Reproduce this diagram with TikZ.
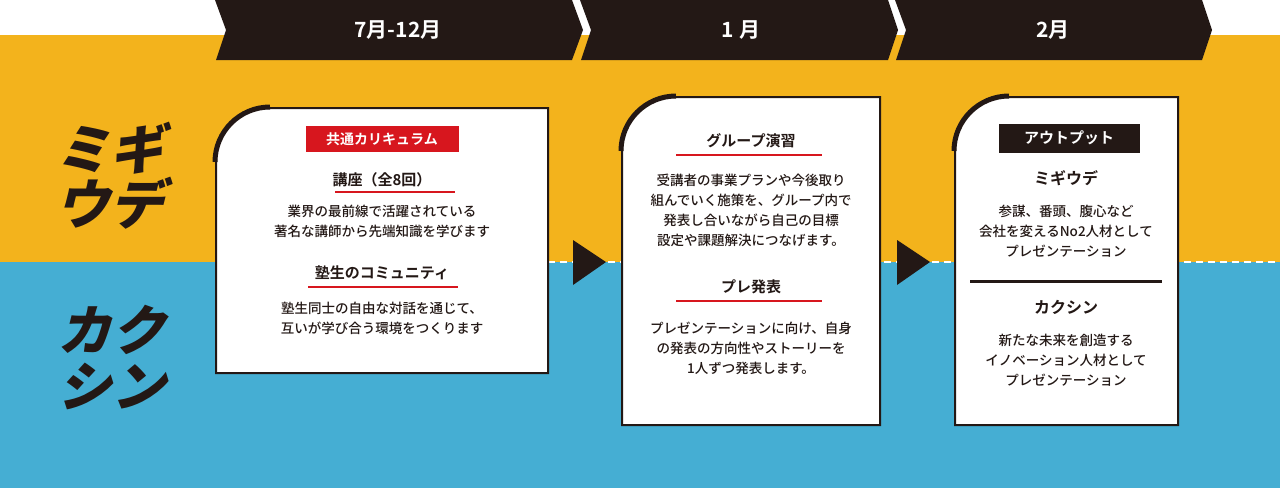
\documentclass[tikz,border=0pt]{standalone}
\usepackage{fontspec}
\setmainfont{Noto Sans CJK JP Medium}[BoldFont={Noto Sans CJK JP Bold}]
\newfontfamily\logofont{Noto Sans CJK JP Black}[FakeSlant=0.25]
\definecolor{ink}{HTML}{231815}
\definecolor{yel}{HTML}{F3B31C}
\definecolor{blu}{HTML}{45AED3}
\definecolor{redl}{HTML}{D7161E}
\tikzset{
  body/.style={align=center,font=\fontsize{13.5}{20}\selectfont,text=ink,inner sep=0},
  head/.style={font=\bfseries\fontsize{15}{16}\selectfont,text=ink,inner sep=0},
  month/.style={font=\bfseries\fontsize{21}{22}\selectfont,text=white,inner sep=0},
  logo/.style={font=\logofont\fontsize{54}{54}\selectfont,text=ink,inner sep=0},
  banner/.style={fill=ink},
  cardline/.style={draw=ink,line width=2pt,fill=white},
  cornerarc/.style={draw=ink,line width=5pt},
  uline/.style={draw=redl,line width=1.5pt},
  tri/.style={fill=ink}
}
\begin{document}
\begin{tikzpicture}[x=1pt,y=-1pt]
\useasboundingbox (0,0) rectangle (1280,491);
\fill[white] (0,0) rectangle (1280,491);
\fill[yel] (0,35) rectangle (1280,262);
\fill[blu] (0,262) rectangle (1280,488);
\draw[white,line width=2pt,dash pattern=on 7pt off 5pt] (548,262) -- (1280,262);
% banners
\fill[banner] (215,0) -- (572,0) -- (583,30) -- (572,60) -- (216,60) -- (226,30) -- cycle;
\fill[banner] (580,0) -- (888,0) -- (898,30) -- (888,60) -- (581,60) -- (591,30) -- cycle;
\fill[banner] (895,0) -- (1202,0) -- (1212,30) -- (1202,60) -- (896,60) -- (906,30) -- cycle;
\node[month] (m1) at (398,30) {7月-12月};
\node[month] (m2) at (741,30) {1 月};
\node[month] (m3) at (1053,30) {2月};
% logos
\node[logo] (l1) at (109,148) {ミギ};
\node[logo] (l2) at (109,203) {ウデ};
\node[logo] (l3) at (111,330) {カク};
\node[logo] (l4) at (111,386) {シン};
% arrows
\fill[tri] (573,240) -- (606,262) -- (573,285) -- cycle;
\fill[tri] (897,240) -- (930,262) -- (897,285) -- cycle;
% cards
\def\card#1#2#3#4{%
 \draw[cardline] (#1+52,#2) -- (#3,#2) -- (#3,#4) -- (#1,#4) -- (#1,#2+52) arc[start angle=180,end angle=270,radius=52] -- cycle;
 \draw[cornerarc] (#1-1,#2+54) arc[start angle=180,end angle=270,radius=55];}
\card{216}{108}{548}{373}
\card{622}{97}{880}{425}
\card{955}{97}{1178}{425}
% card 1
\node[fill=redl,minimum width=153pt,minimum height=26pt,inner sep=0,text=white,font=\bfseries\fontsize{14}{15}\selectfont] (c1tag) at (382,139) {共通カリキュラム};
\node[head] (c1h1) at (382,180) {講座（全8回）};
\draw[uline] (335,192) -- (455,192);
\node[body] (c1b1) at (382,221) {業界の最前線で活躍されている\\著名な講師から先端知識を学びます};
\node[head] (c1h2) at (382,273) {塾生のコミュニティ};
\draw[uline] (308,287) -- (458,287);
\node[body] (c1b2) at (382,318) {塾生同士の自由な対話を通じて、\\互いが学び合う環境をつくります};
% card 2
\node[head] (c2h1) at (751,141) {グループ演習};
\draw[uline] (676,155) -- (822,155);
\node[body] (c2b1) at (751,210) {受講者の事業プランや今後取り\\組んでいく施策を、グループ内で\\発表し合いながら自己の目標\\設定や課題解決につなげます。};
\node[head] (c2h2) at (751,287) {プレ発表};
\draw[uline] (676,301) -- (822,301);
\node[body] (c2b2) at (751,348) {プレゼンテーションに向け、自身\\の発表の方向性やストーリーを\\1人ずつ発表します。};
% card 3
\node[fill=ink,minimum width=141pt,minimum height=29pt,inner sep=0,text=white,font=\bfseries\fontsize{15}{16}\selectfont] (c3tag) at (1069,138) {アウトプット};
\node[head,font=\bfseries\fontsize{16}{17}\selectfont] (c3h1) at (1066,178) {ミギウデ};
\node[body] (c3b1) at (1066,231) {参謀、番頭、腹心など\\会社を変えるNo2人材として\\プレゼンテーション};
\draw[ink,line width=3pt] (970,281) -- (1162,281);
\node[head,font=\bfseries\fontsize{16}{17}\selectfont] (c3h2) at (1066,307) {カクシン};
\node[body] (c3b2) at (1066,360) {新たな未来を創造する\\イノベーション人材として\\プレゼンテーション};
\end{tikzpicture}
\end{document}
